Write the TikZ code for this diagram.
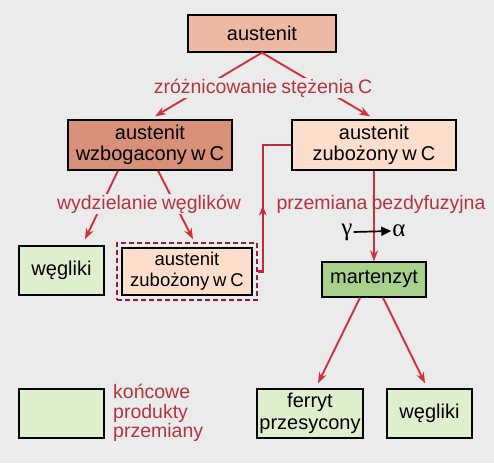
\documentclass[tikz,border=0pt]{standalone}
\usepackage{fontspec}
\setmainfont{Liberation Sans}[WordSpace=0.75]
\newfontfamily\grk{Liberation Serif}
\usetikzlibrary{arrows.meta}
\definecolor{bg}{HTML}{EBEBEB}
\definecolor{topc}{HTML}{EEB9A2}
\definecolor{richc}{HTML}{D99078}
\definecolor{poorc}{HTML}{FDDDCB}
\definecolor{lgreen}{HTML}{DDEFCD}
\definecolor{dgreen}{HTML}{A8D18C}
\definecolor{labred}{HTML}{B4343F}
\definecolor{arrred}{HTML}{D3303B}
\definecolor{connred}{HTML}{C12A3A}
\definecolor{dashred}{HTML}{8E2038}
\begin{document}
\begin{tikzpicture}[x=1pt,y=-1pt,
  box/.style={draw=black, line width=1.3pt, align=center, inner sep=0pt,
    font=\fontsize{20}{21.5}\selectfont},
  lab/.style={text=labred, font=\fontsize{19.5}{21}\selectfont, inner sep=1pt},
  arr/.style={draw=arrred, line width=1.9pt, -{Stealth[length=11pt,width=8pt]}},
]
\fill[bg] (0,0) rectangle (494,463);
\useasboundingbox (0,0) rectangle (494,463);

% boxes
\node[box, fill=topc, minimum width=148pt, minimum height=37pt] (top) at (262,33.5) {austenit};
\node[box, fill=richc, minimum width=164pt, minimum height=50pt] (L) at (150,145) {austenit\\wzbogacony w C};
\node[box, fill=poorc, minimum width=164pt, minimum height=50pt] (R) at (374,145) {austenit\\zubożony w C};
\node[box, fill=lgreen, minimum width=85pt, minimum height=49pt] (weg1) at (61.5,270.5) {węgliki};
\node[draw=dashred, dashed, dash pattern=on 5pt off 3pt, line width=1.5pt, minimum width=140pt, minimum height=57pt, inner sep=0pt] (dash) at (187,271.5) {};
\node[box, fill=poorc, minimum width=130pt, minimum height=47pt, font=\fontsize{18.5}{21}\selectfont] (inner) at (187,271.5) {austenit\\zubożony w C};
\node[box, fill=dgreen, minimum width=104pt, minimum height=35pt] (mart) at (374,279.5) {martenzyt};
\node[box, fill=lgreen, minimum width=106pt, minimum height=49pt] (ferryt) at (310,413.5) {ferryt\\przesycony};
\node[box, fill=lgreen, minimum width=85pt, minimum height=49pt] (weg2) at (429.5,413.5) {węgliki};
\node[box, fill=lgreen, minimum width=85pt, minimum height=49pt] (leg) at (61.5,413.5) {};
\node[lab, anchor=west, align=left, font=\fontsize{19.5}{19.5}\selectfont] (legtext) at (112,413) {końcowe\\produkty\\przemiany};

% arrows
\draw[arr] (top.south) -- ([shift={(5,-3)}]L.north);
\draw[arr] (top.south) -- ([shift={(-4,-3)}]R.north);
\draw[arr] ([xshift=-32pt]L.south) -- ([shift={(23.5,-6)}]weg1.north);
\draw[arr] ([xshift=8pt]L.south) -- ([shift={(6,-3)}]dash.north);
\draw[arr] (R.south) -- (mart.north);
\draw[arr] ([xshift=-14pt]mart.south) -- ([shift={(8,-5)}]ferryt.north);
\draw[arr] ([xshift=9pt]mart.south) -- ([shift={(-4.5,-5)}]weg2.north);

% return connector
\draw[draw=connred, line width=2.3pt] (dash.east) -- ++(5,0) coordinate (c1) |- (R.west);
\draw[draw=connred, line width=2.3pt, -{Stealth[length=10pt,width=7.5pt]}] (c1) -- ++(0,-66);

% labels
\node[lab, fill=bg] (lab1) at (263,88) {zróżnicowanie stężenia C};
\node[lab, fill=bg] (lab2) at (149,204) {wydzielanie węglików};
\node[lab] (lab3) at (381,204) {przemiana bezdyfuzyjna};

% gamma -> alpha
\node[font=\grk\fontsize{25}{25}\selectfont, inner sep=1pt] (g) at (347,232) {γ};
\node[font=\grk\fontsize{25}{25}\selectfont, inner sep=1pt] (a) at (399,231) {α};
\draw[black, line width=1.7pt, -{Triangle[length=10pt,width=9pt]}] (g.east) -- (a.west);
\end{tikzpicture}
\end{document}
